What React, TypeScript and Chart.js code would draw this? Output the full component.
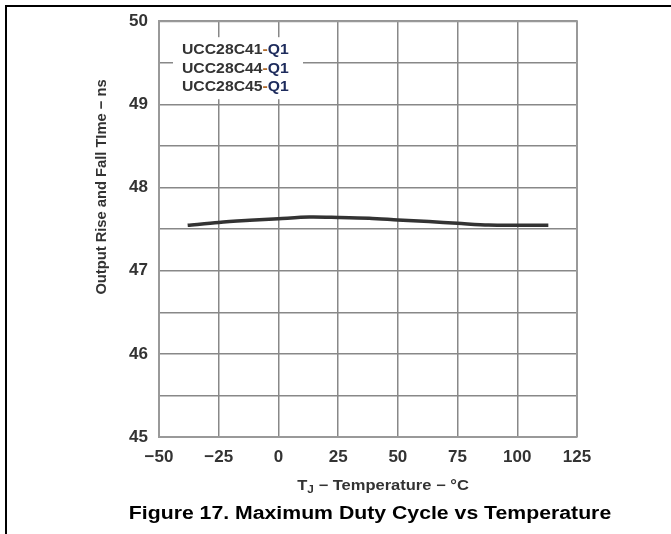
import React, { useEffect, useRef } from "react";
import { Chart, registerables } from "chart.js";

Chart.register(...registerables);

const temperatures = [-38, -25, -12, 0, 13, 25, 38, 50, 63, 75, 88, 100, 113];
const riseFallTime = [47.545, 47.58, 47.605, 47.625, 47.645, 47.64, 47.63, 47.61, 47.59, 47.57, 47.548, 47.547, 47.547];
const deviceNames = ["UCC28C41", "UCC28C44", "UCC28C45"];
const deviceSuffixDash = "-";
const deviceSuffix = "Q1";
const xTitleMain = "T";
const xTitleSub = "J";
const xTitleRest = " − Temperature − °C";
const yTitle = "Output Rise and Fall TIme − ns";
const caption = "Figure 17. Maximum Duty Cycle vs Temperature";

const FONT = "'Liberation Sans', Arial, Helvetica, sans-serif";

function stretchedText(ctx: CanvasRenderingContext2D, text: string, x: number, y: number, sx: number) {
  ctx.save();
  ctx.translate(x, y);
  ctx.scale(sx, 1);
  ctx.fillText(text, 0, 0);
  ctx.restore();
}

const decorPlugin = {
  id: "decor",
  afterDraw(chart: any) {
    const ctx = chart.ctx as CanvasRenderingContext2D;
    const area = chart.chartArea;
    ctx.save();
    // frame
    ctx.strokeStyle = "#000";
    ctx.lineWidth = 2;
    ctx.beginPath();
    ctx.moveTo(671, 6);
    ctx.lineTo(6, 6);
    ctx.lineTo(6, 534);
    ctx.stroke();

    // annotation box
    ctx.fillStyle = "#fff";
    ctx.fillRect(area.left + 14, area.top + 16, 130, 62);
    ctx.font = `bold 15px ${FONT}`;
    ctx.textBaseline = "middle";
    ctx.textAlign = "left";
    const aS = 1.05;
    deviceNames.forEach((n, i) => {
      const y = area.top + 29 + i * 18.5;
      let x = area.left + 23;
      ctx.fillStyle = "#333";
      stretchedText(ctx, n, x, y, aS);
      x += ctx.measureText(n).width * aS;
      ctx.fillStyle = "#b06a2a";
      stretchedText(ctx, deviceSuffixDash, x, y, aS);
      x += ctx.measureText(deviceSuffixDash).width * aS;
      ctx.fillStyle = "#1d2b5c";
      stretchedText(ctx, deviceSuffix, x, y, aS);
    });

    // x title
    const xS = 1.18;
    ctx.fillStyle = "#333";
    ctx.font = `bold 14px ${FONT}`;
    const tW = ctx.measureText(xTitleMain).width * xS;
    const restW = ctx.measureText(xTitleRest).width * xS;
    ctx.font = `bold 10px ${FONT}`;
    const jW = ctx.measureText(xTitleSub).width * xS;
    const total = tW + jW + restW;
    let sx = 383 - total / 2;
    const ty = 486;
    ctx.font = `bold 14px ${FONT}`;
    stretchedText(ctx, xTitleMain, sx, ty, xS);
    sx += tW;
    ctx.font = `bold 10px ${FONT}`;
    stretchedText(ctx, xTitleSub, sx, ty + 4, xS);
    sx += jW;
    ctx.font = `bold 14px ${FONT}`;
    stretchedText(ctx, xTitleRest, sx, ty, xS);

    // y title
    ctx.save();
    ctx.translate(102, 187);
    ctx.rotate(-Math.PI / 2);
    ctx.scale(0.98, 1);
    ctx.textAlign = "center";
    ctx.font = `bold 15px ${FONT}`;
    ctx.fillText(yTitle, 0, 0);
    ctx.restore();

    // caption
    ctx.fillStyle = "#000";
    ctx.font = `bold 18px ${FONT}`;
    ctx.textAlign = "center";
    stretchedText(ctx, caption, 370, 514, 1.18);
    ctx.restore();
  },
};

export default function App() {
  const ref = useRef<HTMLCanvasElement>(null);
  useEffect(() => {
    document.body.style.margin = "0";
    const chart = new Chart(ref.current!, {
      type: "line",
      data: {
        datasets: [
          {
            data: temperatures.map((t, i) => ({ x: t, y: riseFallTime[i] })),
            borderColor: "#333",
            borderWidth: 3.5,
            pointRadius: 0,
            tension: 0.3,
            fill: false,
          },
        ],
      },
      options: {
        responsive: false,
        animation: false,
        layout: { padding: { left: 0, right: 94, top: 19, bottom: 0 } },
        plugins: { legend: { display: false }, tooltip: { enabled: false } },
        scales: {
          x: {
            type: "linear",
            min: -50,
            max: 125,
            afterFit: (s: any) => {
              s.height = 97;
            },
            ticks: {
              stepSize: 25,
              padding: 10,
              color: "#333",
              font: { family: FONT, size: 17, weight: "bold" },
              callback: (v: any) => (v < 0 ? "−" + Math.abs(v) : String(v)),
            },
            grid: { color: "#888", lineWidth: 1.5, drawTicks: false },
            border: { color: "#999", width: 2 },
          },
          y: {
            min: 45,
            max: 50,
            afterFit: (s: any) => {
              s.width = 159;
            },
            ticks: {
              stepSize: 0.5,
              padding: 11,
              color: "#333",
              font: { family: FONT, size: 17, weight: "bold" },
              callback: (v: any) => (Number.isInteger(v) ? String(v) : ""),
            },
            grid: { color: "#888", lineWidth: 1.5, drawTicks: false },
            border: { color: "#999", width: 2 },
          },
        },
      },
      plugins: [
        {
          id: "rightTopBorder",
          beforeDatasetsDraw(chart: any) {
            const ctx = chart.ctx;
            const a = chart.chartArea;
            ctx.save();
            ctx.strokeStyle = "#999";
            ctx.lineWidth = 2;
            ctx.beginPath();
            ctx.moveTo(a.left, a.top);
            ctx.lineTo(a.right, a.top);
            ctx.lineTo(a.right, a.bottom);
            ctx.stroke();
            ctx.restore();
          },
        },
        decorPlugin,
      ],
    });
    return () => chart.destroy();
  }, []);
  return (
    <div style={{ position: "absolute", left: 0, top: 0, width: 671, height: 534 }}>
      <canvas ref={ref} width={671} height={534} />
    </div>
  );
}
